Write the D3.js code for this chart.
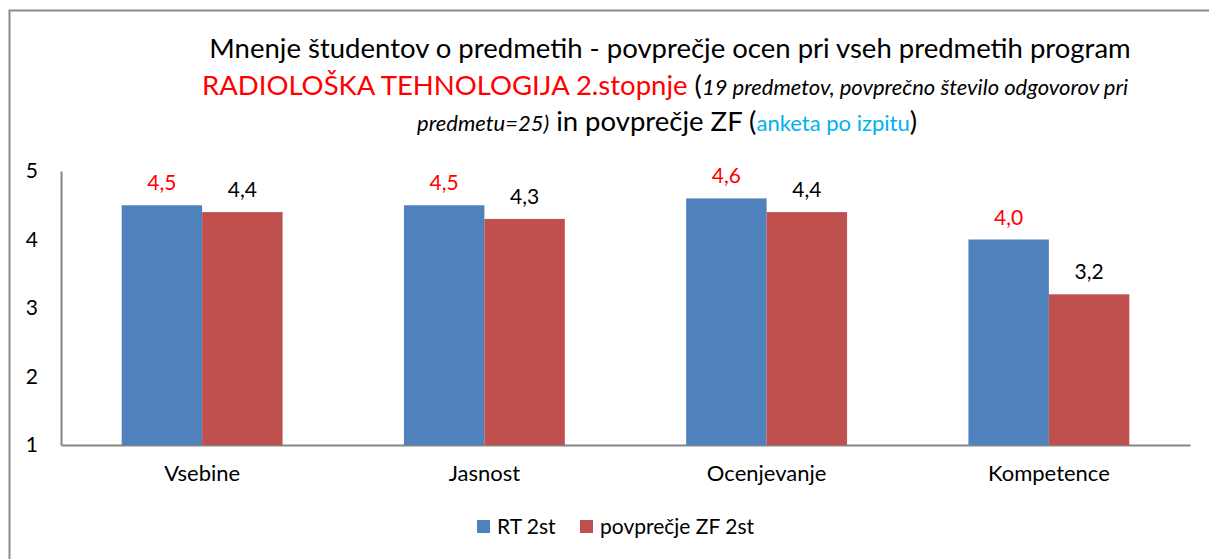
<!DOCTYPE html>
<html>
<head>
<meta charset="utf-8">
<script src="https://cdn.jsdelivr.net/npm/d3@7"></script>
<style>
  body { margin: 0; background: #fff; }
  svg text { font-family: Lato, "Open Sans", sans-serif; }
</style>
</head>
<body>
<div class="container"></div>
<script>
const categories = ["Vsebine", "Jasnost", "Ocenjevanje", "Kompetence"];
const seriesNames = ["RT 2st", "povprečje ZF 2st"];
const rtValues = [4.5, 4.5, 4.6, 4.0];
const zfValues = [4.4, 4.3, 4.4, 3.2];
const yTicks = [1, 2, 3, 4, 5];

const colors = ["#4F81BD", "#C0504D"];
const labelColors = ["#FF0000", "#000000"];

const width = 1209, height = 559;
const margin = { top: 171, right: 19, bottom: 114, left: 61 };

const svg = d3.select(".container")
    .append("svg")
        .attr("width", width)
        .attr("height", height);

// outer chart frame
svg.append("rect")
    .attr("x", 9.5).attr("y", 10.5)
    .attr("width", width).attr("height", height)
    .attr("fill", "none")
    .attr("stroke", "#8c8c8c")
    .attr("stroke-width", 2);

// title
const title = svg.append("text")
    .attr("text-anchor", "middle")
    .attr("fill", "#000");

title.append("tspan")
    .attr("x", 670).attr("y", 58)
    .style("font-size", "27.5px")
    .text("Mnenje študentov o predmetih - povprečje ocen pri vseh predmetih program");

const line2 = title.append("tspan").attr("x", 665).attr("y", 95);
line2.append("tspan").attr("fill", "#FF0000").style("font-size", "27.5px")
    .text("RADIOLOŠKA TEHNOLOGIJA 2.stopnje ");
line2.append("tspan").style("font-size", "27.5px").text("(");
line2.append("tspan").style("font-size", "22px").style("font-style", "italic")
    .text("19 predmetov, povprečno število odgovorov pri");

const line3 = title.append("tspan").attr("x", 667).attr("y", 131);
line3.append("tspan").style("font-size", "22px").style("font-style", "italic")
    .text("predmetu=25)");
line3.append("tspan").style("font-size", "27.5px").text(" in povprečje ZF (");
line3.append("tspan").attr("fill", "#00B0F0").style("font-size", "22px")
    .text("anketa po izpitu");
line3.append("tspan").style("font-size", "27.5px").text(")");

// scales
const x0 = d3.scaleBand()
    .domain(categories)
    .range([margin.left, width - margin.right])
    .paddingInner(0.43)
    .paddingOuter(0.215);

const x1 = d3.scaleBand()
    .domain([0, 1])
    .range([0, x0.bandwidth()]);

const y = d3.scaleLinear()
    .domain([1, 5])
    .range([height - margin.bottom, margin.top]);

// axes
const yAxis = svg.append("g")
    .attr("transform", `translate(${margin.left},0)`)
    .call(d3.axisLeft(y).tickValues(yTicks).tickFormat(d3.format("d")).tickSize(0).tickPadding(23));
yAxis.select(".domain").attr("stroke", "#868686").attr("stroke-width", 2);
yAxis.selectAll("text").style("font-size", "21px").attr("fill", "#000");

const xAxis = svg.append("g")
    .attr("transform", `translate(0,${height - margin.bottom})`)
    .call(d3.axisBottom(x0).tickSize(0).tickPadding(20));
xAxis.select(".domain").attr("stroke", "#868686").attr("stroke-width", 2);
xAxis.selectAll("text").style("font-size", "22px").attr("fill", "#000");

// bars
const series = [rtValues, zfValues];
const groups = svg.append("g")
    .selectAll("g")
    .data(categories)
    .join("g")
        .attr("transform", (d) => `translate(${x0(d)},0)`);

groups.selectAll("rect")
    .data((d, i) => series.map((s, k) => ({ k: k, v: s[i] })))
    .join("rect")
        .attr("x", (d) => x1(d.k))
        .attr("y", (d) => y(d.v))
        .attr("width", x1.bandwidth())
        .attr("height", (d) => y(1) - y(d.v))
        .attr("fill", (d) => colors[d.k]);

groups.selectAll("text.val")
    .data((d, i) => series.map((s, k) => ({ k: k, v: s[i] })))
    .join("text")
        .attr("class", "val")
        .attr("x", (d) => x1(d.k) + x1.bandwidth() / 2)
        .attr("y", (d) => y(d.v) - 15)
        .attr("text-anchor", "middle")
        .attr("fill", (d) => labelColors[d.k])
        .style("font-size", "21px")
        .text((d) => d3.format(".1f")(d.v).replace(".", ","));

// legend
const legend = svg.append("g")
    .selectAll("g")
    .data(seriesNames)
    .join("g")
        .attr("transform", (d, i) => `translate(${i === 0 ? 477 : 580},520)`);

legend.append("rect")
    .attr("width", 13).attr("height", 13)
    .attr("fill", (d, i) => colors[i]);

legend.append("text")
    .attr("x", 20).attr("y", 14)
    .style("font-size", "21px")
    .text((d) => d);
</script>
</body>
</html>
